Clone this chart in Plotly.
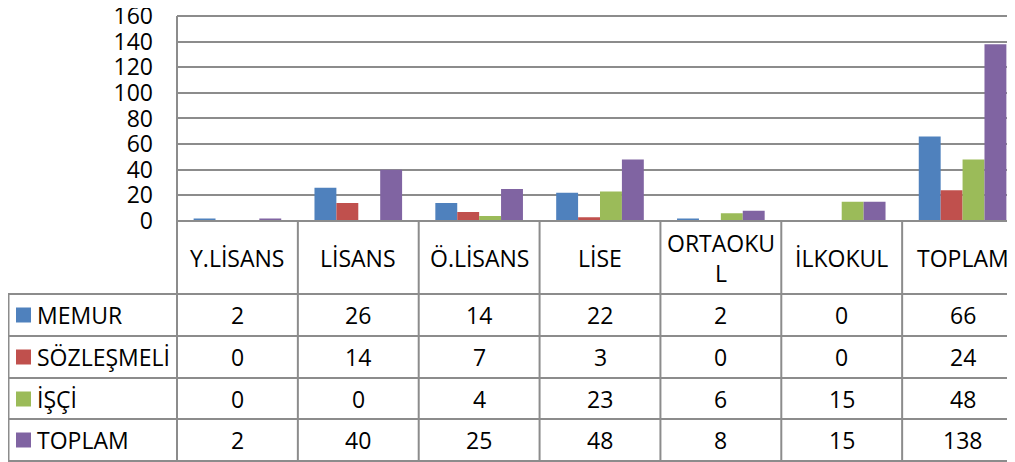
import plotly.graph_objects as go

categories = ["Y.LİSANS", "LİSANS", "Ö.LİSANS", "LİSE", "ORTAOKUL", "İLKOKUL", "TOPLAM"]
header_labels = ["Y.LİSANS", "LİSANS", "Ö.LİSANS", "LİSE", "ORTAOKU<br>L", "İLKOKUL", "TOPLAM"]
series_names = ["MEMUR", "SÖZLEŞMELİ", "İŞÇİ", "TOPLAM"]
memur = [2, 26, 14, 22, 2, 0, 66]
sozlesmeli = [0, 14, 7, 3, 0, 0, 24]
isci = [0, 0, 4, 23, 6, 15, 48]
toplam = [2, 40, 25, 48, 8, 15, 138]
series_values = [memur, sozlesmeli, isci, toplam]
colors = ["#4F81BD", "#C0504D", "#9BBB59", "#8064A2"]
y_ticks = [0, 20, 40, 60, 80, 100, 120, 140, 160]

W, H = 1015, 462
OX, OY = 8, 8  # page body margin compensation
FONT = "Open Sans, Noto Sans, sans-serif"
FS = 23
TICK_FS = 23
LINE = "#8c8c8c"
Y_MAX = 161.0
PX_PER_UNIT = (221 - 16) / 160.0


def py(p):
    return 1 - (p - OY) / H


def px(p):
    return max(0.0, (p - OX) / W)


fig = go.Figure()
for name, vals, col in zip(series_names, series_values, colors):
    fig.add_trace(go.Bar(x=categories, y=vals, name=name, marker=dict(color=col, line=dict(width=0))))

n = len(categories)

shapes = []
# axis lines
shapes.append(dict(type="line", xref="paper", yref="paper", x0=px(177), x1=1, y0=py(221), y1=py(221),
                   line=dict(color=LINE, width=2)))
shapes.append(dict(type="line", xref="paper", yref="paper", x0=px(177), x1=px(177), y0=py(16), y1=py(461),
                   line=dict(color=LINE, width=2)))
# column boundaries in table
for i in range(1, n):
    shapes.append(dict(type="line", xref="x", yref="paper", x0=i - 0.5, x1=i - 0.5, y0=py(221), y1=py(461),
                       line=dict(color=LINE, width=2)))
# row lines
for yy in [294, 336, 378, 419, 461]:
    shapes.append(dict(type="line", xref="paper", yref="paper", x0=px(7), x1=1, y0=py(yy), y1=py(yy),
                       line=dict(color=LINE, width=2)))
shapes.append(dict(type="line", xref="paper", yref="paper", x0=px(8) + 0.5 / W, x1=px(8) + 0.5 / W,
                   y0=py(294), y1=py(461), line=dict(color=LINE, width=2)))

row_centers = [315, 357, 399, 440]
annotations = []
for lbl, cat in zip(header_labels, categories):
    annotations.append(dict(x=cat, xref="x", y=py(258), yref="paper", text=lbl, showarrow=False,
                            font=dict(family=FONT, size=FS, color="black"), xanchor="center", yanchor="middle"))
for r, (name, vals, col) in enumerate(zip(series_names, series_values, colors)):
    yc = row_centers[r]
    shapes.append(dict(type="rect", xref="paper", yref="paper", x0=px(16), x1=px(31),
                       y0=py(yc + 7.5), y1=py(yc - 7.5), fillcolor=col, line=dict(width=0)))
    annotations.append(dict(x=px(35), xref="paper", y=py(yc), yref="paper", text=name, showarrow=False,
                            font=dict(family=FONT, size=FS, color="black"), xanchor="left", yanchor="middle"))
    for cat, v in zip(categories, vals):
        annotations.append(dict(x=cat, xref="x", y=py(yc), yref="paper", text=str(v), showarrow=False,
                                font=dict(family=FONT, size=FS, color="black"), xanchor="center",
                                yanchor="middle"))

y_top_px = 221 - Y_MAX * PX_PER_UNIT

fig.update_layout(
    width=W, height=H,
    margin=dict(l=0, r=0, t=0, b=0, pad=0, autoexpand=False),
    paper_bgcolor="white", plot_bgcolor="white",
    barmode="group", bargap=0.275, bargroupgap=0,
    showlegend=False,
    xaxis=dict(domain=[px(177), 1], range=[-0.5, 6.5], showticklabels=False, showgrid=False,
               zeroline=False, showline=False, fixedrange=True, automargin=False),
    yaxis=dict(domain=[py(221), py(y_top_px)], range=[0, Y_MAX], tickvals=y_ticks,
               ticktext=[str(t) for t in y_ticks],
               showgrid=True, gridcolor=LINE, gridwidth=2, zeroline=False, showline=False,
               tickfont=dict(family=FONT, size=TICK_FS, color="black"), ticks="", ticklabelstandoff=23,
               ticklabeloverflow="allow", fixedrange=True, automargin=False),
    shapes=shapes,
    annotations=annotations,
)

fig.write_html("out.html")
